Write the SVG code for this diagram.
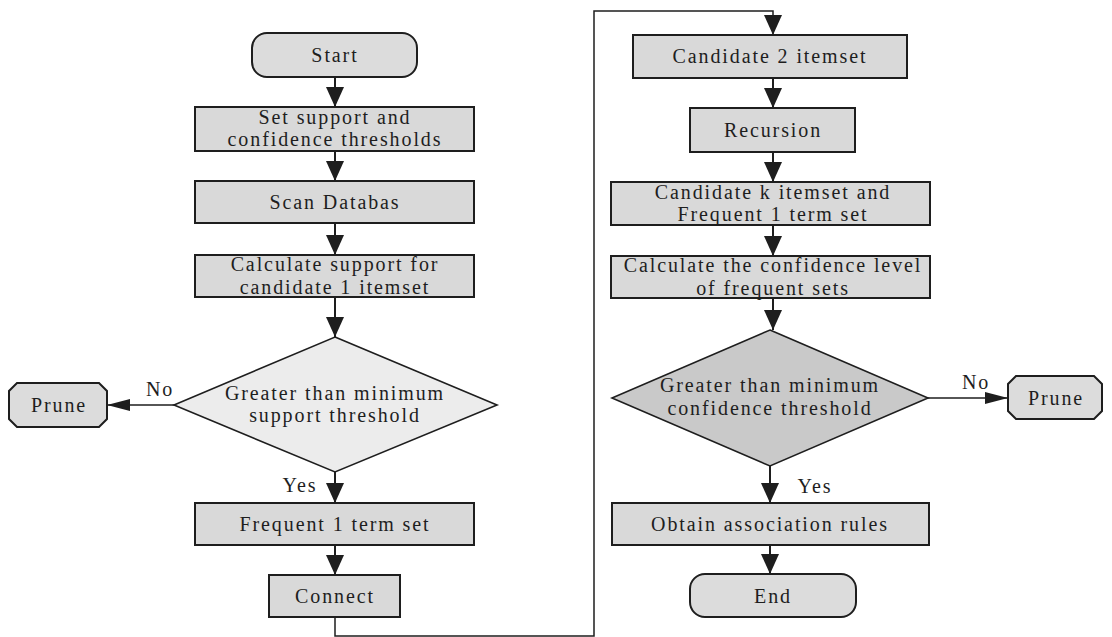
<svg xmlns="http://www.w3.org/2000/svg" width="1112" height="637" viewBox="0 0 1112 637">
  <style>
    .box { fill: #d9d9d9; stroke: #1e1e1e; stroke-width: 2; }
    .term { fill: #dcdcdc; stroke: #1e1e1e; stroke-width: 2; }
    .dia1 { fill: #ececec; stroke: #1e1e1e; stroke-width: 1.6; }
    .dia2 { fill: #c9c9c9; stroke: #1e1e1e; stroke-width: 1.6; }
    .lbl { font-family: "Liberation Serif", "Times New Roman", serif; font-size: 20px; letter-spacing: 1.9px; fill: #1e1e1e; text-anchor: middle; }
    .edge { fill: none; stroke: #1e1e1e; stroke-width: 2; }
    .thin { fill: none; stroke: #1e1e1e; stroke-width: 1.5; }
  </style>
  <defs>
    <marker id="arrow" markerUnits="userSpaceOnUse" markerWidth="20" markerHeight="20" viewBox="0 0 20 20" refX="20" refY="10" orient="auto">
      <path d="M0,1 L20,10 L0,19 Z" fill="#1e1e1e"/>
    </marker>
    <marker id="arrow-h" markerUnits="userSpaceOnUse" markerWidth="23" markerHeight="14" viewBox="0 0 23 14" refX="23" refY="7" orient="auto">
      <path d="M0,1 L23,7 L0,13 Z" fill="#1e1e1e"/>
    </marker>
  </defs>

  <!-- connectors -->
  <g id="connectors">
    <line class="edge" x1="335" y1="77" x2="335" y2="107" marker-end="url(#arrow)"/>
    <line class="edge" x1="335" y1="151" x2="335" y2="181" marker-end="url(#arrow)"/>
    <line class="edge" x1="335" y1="223" x2="335" y2="255" marker-end="url(#arrow)"/>
    <line class="edge" x1="335" y1="297" x2="335" y2="337" marker-end="url(#arrow)"/>
    <line class="thin" x1="174" y1="405" x2="107" y2="405" marker-end="url(#arrow-h)"/>
    <line class="edge" x1="335" y1="472" x2="335" y2="503" marker-end="url(#arrow)"/>
    <line class="edge" x1="335" y1="545" x2="335" y2="575" marker-end="url(#arrow)"/>
    <polyline class="thin" points="335,617 335,636 594,636 594,11 773,11 773,35" marker-end="url(#arrow)"/>
    <line class="edge" x1="773" y1="78" x2="773" y2="108" marker-end="url(#arrow)"/>
    <line class="edge" x1="773" y1="152" x2="773" y2="182" marker-end="url(#arrow)"/>
    <line class="edge" x1="773" y1="225" x2="773" y2="256" marker-end="url(#arrow)"/>
    <line class="edge" x1="773" y1="298" x2="773" y2="330" marker-end="url(#arrow)"/>
    <line class="thin" x1="928" y1="398" x2="1008" y2="398" marker-end="url(#arrow-h)"/>
    <line class="edge" x1="770" y1="466" x2="770" y2="503" marker-end="url(#arrow)"/>
    <line class="edge" x1="770" y1="545" x2="770" y2="574" marker-end="url(#arrow)"/>
    <text class="lbl" x="160" y="396">No</text>
    <text class="lbl" x="300" y="492">Yes</text>
    <text class="lbl" x="976" y="389">No</text>
    <text class="lbl" x="815" y="493">Yes</text>
  </g>

  <!-- left column -->
  <g id="start">
    <rect class="term" x="252" y="33" width="165" height="44" rx="15"/>
    <text class="lbl" x="335" y="62">Start</text>
  </g>
  <g id="set-thresholds">
    <rect class="box" x="195" y="107" width="279" height="44"/>
    <text class="lbl" x="335" y="123.5">Set support and</text>
    <text class="lbl" x="335" y="146">confidence thresholds</text>
  </g>
  <g id="scan-db">
    <rect class="box" x="195" y="181" width="279" height="42"/>
    <text class="lbl" x="335" y="209">Scan Databas</text>
  </g>
  <g id="calc-support">
    <rect class="box" x="195" y="255" width="279" height="42"/>
    <text class="lbl" x="335" y="271">Calculate support for</text>
    <text class="lbl" x="335" y="293.5">candidate 1 itemset</text>
  </g>
  <g id="support-check">
    <polygon class="dia1" points="335,337 497,405 335,472 174,405"/>
    <text class="lbl" x="335" y="399.5">Greater than minimum</text>
    <text class="lbl" x="335" y="422">support threshold</text>
  </g>
  <g id="prune-left">
    <polygon class="term" points="17,383 99,383 107,391 107,419 99,427 17,427 9,419 9,391"/>
    <text class="lbl" x="59" y="412">Prune</text>
  </g>
  <g id="frequent-1">
    <rect class="box" x="195" y="503" width="279" height="42"/>
    <text class="lbl" x="335" y="531">Frequent 1 term set</text>
  </g>
  <g id="connect">
    <rect class="box" x="269" y="575" width="131" height="42"/>
    <text class="lbl" x="335" y="603">Connect</text>
  </g>

  <!-- right column -->
  <g id="candidate-2">
    <rect class="box" x="633" y="35" width="274" height="43"/>
    <text class="lbl" x="770" y="63">Candidate 2 itemset</text>
  </g>
  <g id="recursion">
    <rect class="box" x="690" y="108" width="165" height="44"/>
    <text class="lbl" x="773" y="137">Recursion</text>
  </g>
  <g id="candidate-k">
    <rect class="box" x="611" y="182" width="319" height="43"/>
    <text class="lbl" x="773" y="198.5">Candidate k itemset and</text>
    <text class="lbl" x="773" y="221">Frequent 1 term set</text>
  </g>
  <g id="calc-confidence">
    <rect class="box" x="611" y="256" width="319" height="42"/>
    <text class="lbl" x="773" y="272">Calculate the confidence level</text>
    <text class="lbl" x="773" y="294.5">of frequent sets</text>
  </g>
  <g id="confidence-check">
    <polygon class="dia2" points="770,330 928,398 770,466 612,398"/>
    <text class="lbl" x="770" y="392">Greater than minimum</text>
    <text class="lbl" x="770" y="414.5">confidence threshold</text>
  </g>
  <g id="prune-right">
    <polygon class="term" points="1016,376 1094,376 1102,384 1102,411 1094,419 1016,419 1008,411 1008,384"/>
    <text class="lbl" x="1056" y="405">Prune</text>
  </g>
  <g id="obtain-rules">
    <rect class="box" x="612" y="503" width="317" height="42"/>
    <text class="lbl" x="770" y="531">Obtain association rules</text>
  </g>
  <g id="end">
    <rect class="term" x="690" y="574" width="166" height="43" rx="15"/>
    <text class="lbl" x="773" y="603">End</text>
  </g>
</svg>
